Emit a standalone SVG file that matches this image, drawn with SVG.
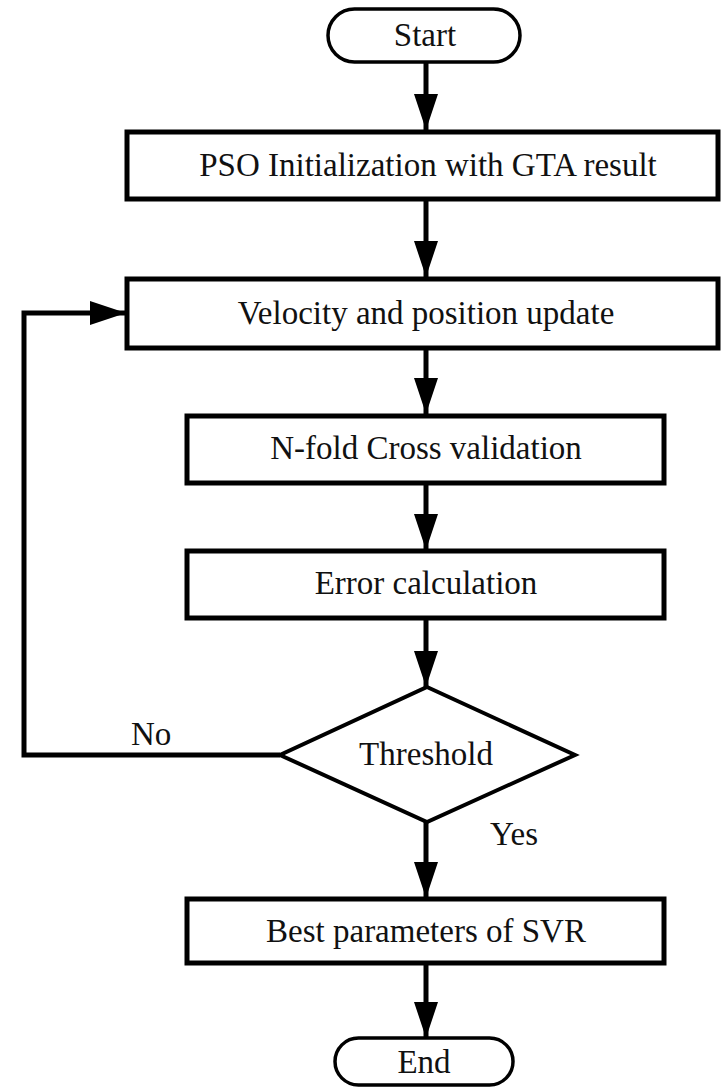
<svg xmlns="http://www.w3.org/2000/svg" width="722" height="1088" viewBox="0 0 722 1088">
<style>
.box{fill:#fff;stroke:#000;stroke-width:5}
.term{fill:#fff;stroke:#000;stroke-width:3.5}
.lbl{font-family:"Liberation Serif","Times New Roman",serif;font-size:33px;fill:#111;text-anchor:middle}
.lbl2{font-family:"Liberation Serif","Times New Roman",serif;font-size:33px;fill:#111}
.ln{fill:none;stroke:#000;stroke-width:5}
</style>
<defs>
<marker id="ah" viewBox="0 0 36 24" refX="36" refY="12" markerWidth="36" markerHeight="24" markerUnits="userSpaceOnUse" orient="auto">
<path d="M0,0 L36,12 L0,24 Z" fill="#000"/>
</marker>
</defs>
<rect width="722" height="1088" fill="#fff"/>
<g id="connectors">
<line class="ln" x1="426" y1="62" x2="426" y2="130" marker-end="url(#ah)"/>
<line class="ln" x1="426" y1="200" x2="426" y2="277" marker-end="url(#ah)"/>
<line class="ln" x1="426" y1="348" x2="426" y2="414" marker-end="url(#ah)"/>
<line class="ln" x1="426" y1="483" x2="426" y2="550" marker-end="url(#ah)"/>
<line class="ln" x1="426" y1="618" x2="426" y2="687" marker-end="url(#ah)"/>
<line class="ln" x1="426" y1="822" x2="426" y2="898" marker-end="url(#ah)"/>
<line class="ln" x1="426" y1="963" x2="426" y2="1038" marker-end="url(#ah)"/>
<polyline class="ln" points="280,755 24,755 24,313 126,313" marker-end="url(#ah)"/>
<text class="lbl2" x="131" y="745">No</text>
<text class="lbl2" x="490" y="845">Yes</text>
</g>
<g id="start">
<rect class="term" x="328" y="9" width="192" height="53" rx="26.5"/>
<text class="lbl" x="425" y="46">Start</text>
</g>
<g id="pso-init">
<rect class="box" x="127" y="132" width="591" height="67"/>
<text class="lbl" x="428" y="176">PSO Initialization with GTA result</text>
</g>
<g id="velocity">
<rect class="box" x="127" y="279" width="591" height="69"/>
<text class="lbl" x="426" y="324">Velocity and position update</text>
</g>
<g id="nfold">
<rect class="box" x="187" y="416" width="477" height="67"/>
<text class="lbl" x="426" y="459">N-fold Cross validation</text>
</g>
<g id="error">
<rect class="box" x="187" y="551" width="477" height="67"/>
<text class="lbl" x="426" y="594">Error calculation</text>
</g>
<g id="threshold">
<polygon points="427,687 575,755 427,822 280,755" fill="#fff" stroke="#000" stroke-width="4"/>
<text class="lbl" x="426" y="765">Threshold</text>
</g>
<g id="best">
<rect class="box" x="187" y="899" width="477" height="64"/>
<text class="lbl" x="426" y="942">Best parameters of SVR</text>
</g>
<g id="end">
<rect class="term" x="335" y="1038" width="178" height="47" rx="23.5"/>
<text class="lbl" x="424" y="1073">End</text>
</g>
</svg>
